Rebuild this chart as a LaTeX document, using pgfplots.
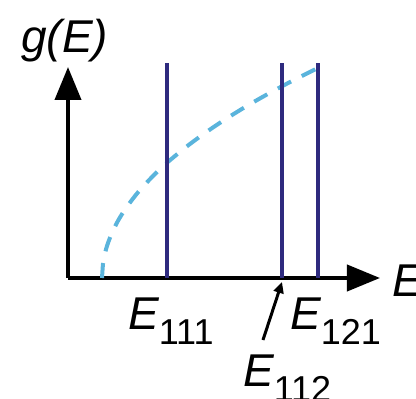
\documentclass[border=0pt]{standalone}
\usepackage{pgfplots}
\pgfplotsset{compat=1.18}
\usetikzlibrary{arrows.meta}
\usepackage{fontspec}
\setmainfont{Liberation Sans}
\definecolor{levelblue}{HTML}{2E2A7E}
\definecolor{dosblue}{HTML}{5AB4DC}
\newcommand{\lab}[1]{\fontsize{46}{50}\selectfont\itshape #1}
\newcommand{\sub}[1]{\raisebox{-15pt}{\fontsize{36}{40}\selectfont\upshape #1}}
\begin{document}
\begin{tikzpicture}
\begin{axis}[
  scale only axis, width=312pt, height=211pt,
  xmin=0, xmax=312, ymin=0, ymax=211,
  axis lines=left, ticks=none, clip=false,
  axis line style={line width=4pt, black, -{Triangle[length=33pt,width=26pt]}},
]
% free-electron density of states, g ~ sqrt(E - E0)
\addplot[dosblue, line width=4pt, dash pattern=on 15pt off 12pt, smooth] coordinates {
  (34,0) (35,14.29) (36,20.2) (38,28.6) (40,35.0) (44,45.2) (50,57.2)
  (58,70.0) (70,85.7) (85,102.0) (100,116.1) (120,132.5) (140,147.1)
  (160,160.4) (180,172.7) (200,184.1) (220,194.9) (240,205.1) (250,210.0)};
% discrete levels
\addplot[levelblue, line width=4pt] coordinates {(99,0) (99,215)};
\addplot[levelblue, line width=4pt] coordinates {(214,0) (214,215)};
\addplot[levelblue, line width=4pt] coordinates {(250,0) (250,215)};
\draw[line width=3pt, -{Triangle[length=11pt,width=10pt]}] (axis cs:195,-62) -- (axis cs:214,-4);
\node[anchor=base west, inner sep=0] at (axis cs:-47,225) {\lab{g}\fontsize{46}{50}\selectfont(\lab{E})};
\node[anchor=base west, inner sep=0] at (axis cs:60,-52) {\lab{E}\sub{111}};
\node[anchor=base west, inner sep=0] at (axis cs:222,-52) {\lab{E}\sub{121}};
\node[anchor=base west, inner sep=0] at (axis cs:175,-109) {\lab{E}\sub{112}};
\node[anchor=base west, inner sep=0] at (axis cs:324,-19) {\lab{E}};
\coordinate (bl) at (axis cs:-68,-121);
\coordinate (tr) at (axis cs:348,278);
\end{axis}
\pgfresetboundingbox
\path[use as bounding box] (bl) rectangle (tr);
\end{tikzpicture}
\end{document}
